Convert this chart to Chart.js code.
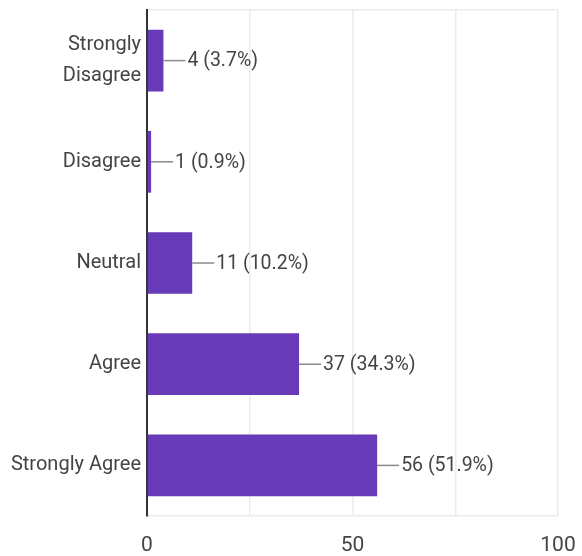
<!DOCTYPE html>
<html>
<head>
<meta charset="utf-8">
<script src="https://cdn.jsdelivr.net/npm/chart.js@4"></script>
<style>
  html, body { margin: 0; padding: 0; background: #fff; }
  #wrap { width: 582px; height: 556px; }
</style>
</head>
<body>
<div id="wrap"><canvas id="chartSurvey"></canvas></div>
<script>
const kategori = [['Strongly', 'Disagree'], 'Disagree', 'Neutral', 'Agree', 'Strongly Agree'];
const jumlah = [4, 1, 11, 37, 56];
const persen = ['3.7%', '0.9%', '10.2%', '34.3%', '51.9%'];
const tickLabels = { 0: '0', 50: '50', 100: '100' };

// label "— n (x%)" di ujung setiap batang
const labelNilai = {
  id: 'labelNilai',
  afterDatasetsDraw(chart) {
    const ctx = chart.ctx;
    const meta = chart.getDatasetMeta(0);
    ctx.save();
    ctx.font = '19.5px Roboto';
    ctx.textBaseline = 'middle';
    ctx.textAlign = 'left';
    meta.data.forEach((bar, i) => {
      const x = bar.x, y = bar.y;
      ctx.strokeStyle = '#8a8a8a';
      ctx.lineWidth = 1.5;
      ctx.beginPath();
      ctx.moveTo(x, y);
      ctx.lineTo(x + 22, y);
      ctx.stroke();
      ctx.fillStyle = '#444';
      ctx.fillText(jumlah[i] + ' (' + persen[i] + ')', x + 24, y + 1);
    });
    ctx.restore();
  }
};

const ctx = document.getElementById('chartSurvey').getContext('2d');

new Chart(ctx, {
  type: 'bar',
  data: {
    labels: kategori,
    datasets: [{
      data: jumlah,
      backgroundColor: '#673ab7',
      borderWidth: 0,
      barPercentage: 0.61,
      categoryPercentage: 1
    }]
  },
  options: {
    indexAxis: 'y',
    responsive: true,
    maintainAspectRatio: false,
    animation: false,
    devicePixelRatio: 1,
    layout: { padding: { top: 10, right: 24, left: 0, bottom: 0 } },
    scales: {
      x: {
        min: 0,
        max: 100,
        ticks: {
          stepSize: 25,
          autoSkip: false,
          maxRotation: 0,
          padding: 17,
          color: '#444',
          font: { family: 'Roboto', size: 21 },
          callback: function(value) {
            return tickLabels[value] !== undefined ? tickLabels[value] : '';
          }
        },
        grid: {
          drawTicks: false,
          lineWidth: 1.5,
          color: c => (c.tick && c.tick.value === 0) ? 'rgba(0,0,0,0)' : '#ececec'
        },
        border: { color: '#ececec', width: 1.5 },
        afterFit: function(scale) {
          scale.height = 40;
          scale.paddingLeft = 0;
          scale.paddingRight = 0;
        }
      },
      y: {
        ticks: {
          padding: 6,
          color: '#444',
          font: { family: 'Roboto', size: 20, lineHeight: 1.55 }
        },
        grid: {
          drawTicks: false,
          lineWidth: 1.5,
          color: c => c.index === 0 ? '#ececec' : 'rgba(0,0,0,0)'
        },
        border: { color: '#333', width: 2 },
        afterFit: function(scale) {
          scale.width = 147;
          scale.paddingTop = 0;
          scale.paddingBottom = 0;
        }
      }
    },
    plugins: {
      legend: { display: false },
      tooltip: { enabled: false }
    }
  },
  plugins: [labelNilai]
});
</script>
</body>
</html>
